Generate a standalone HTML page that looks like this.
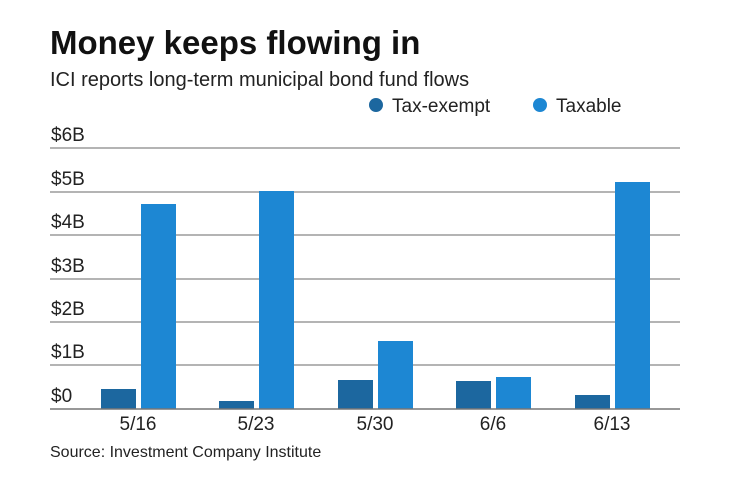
<!DOCTYPE html>
<html><head><meta charset="utf-8"><style>
body{margin:0;background:#fff;width:740px;height:482px;overflow:hidden;font-family:"Liberation Sans",sans-serif;}
</style></head><body>
<svg width="740" height="482" xmlns="http://www.w3.org/2000/svg" font-family="Liberation Sans, sans-serif">
<text x="50" y="54" font-size="33" font-weight="bold" fill="#111">Money keeps flowing in</text>
<text x="50" y="86" font-size="20" fill="#222">ICI reports long-term municipal bond fund flows</text>
<circle cx="376" cy="105" r="7" fill="#1c679f"/>
<text x="392" y="112" font-size="19" fill="#222">Tax-exempt</text>
<circle cx="540" cy="105" r="7" fill="#1d87d3"/>
<text x="556" y="112" font-size="19" fill="#222">Taxable</text>
<g stroke="#888" stroke-width="1.2">
<line x1="50" x2="680" y1="148" y2="148"/><line x1="50" x2="680" y1="192" y2="192"/>
<line x1="50" x2="680" y1="235" y2="235"/><line x1="50" x2="680" y1="279" y2="279"/>
<line x1="50" x2="680" y1="322" y2="322"/><line x1="50" x2="680" y1="365" y2="365"/>
</g>
<g font-size="19" fill="#222">
<text x="51" y="141">$6B</text><text x="51" y="185">$5B</text><text x="51" y="228">$4B</text>
<text x="51" y="272">$3B</text><text x="51" y="315">$2B</text><text x="51" y="358">$1B</text>
<text x="51" y="402">$0</text>
</g>
<g fill="#1c679f">
<rect x="101" y="389" width="35" height="20"/><rect x="219" y="401" width="35" height="8"/>
<rect x="338" y="380" width="35" height="29"/><rect x="456" y="381" width="35" height="28"/>
<rect x="575" y="395" width="35" height="14"/>
</g>
<g fill="#1d87d3">
<rect x="141" y="204" width="35" height="205"/><rect x="259" y="191" width="35" height="218"/>
<rect x="378" y="341" width="35" height="68"/><rect x="496" y="377" width="35" height="32"/>
<rect x="615" y="182" width="35" height="227"/>
</g>
<line x1="50" x2="680" y1="409" y2="409" stroke="#777" stroke-width="1.5"/>
<g font-size="19" fill="#222" text-anchor="middle">
<text x="138" y="430">5/16</text><text x="256" y="430">5/23</text><text x="375" y="430">5/30</text>
<text x="493" y="430">6/6</text><text x="612" y="430">6/13</text>
</g>
<text x="50" y="457" font-size="16" fill="#222">Source: Investment Company Institute</text>
</svg>
</body></html>
